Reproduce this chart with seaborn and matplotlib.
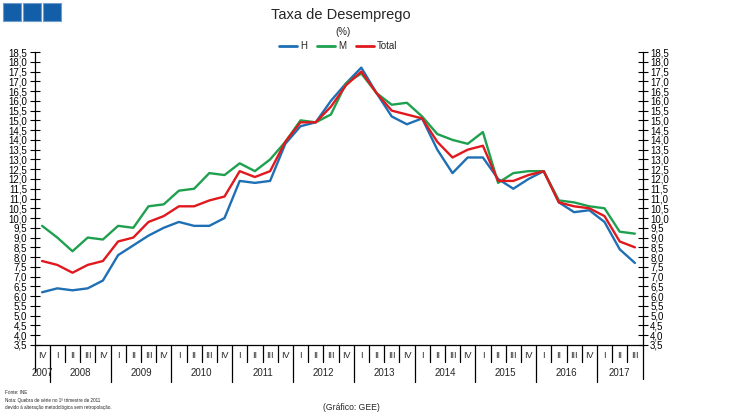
import numpy as np
import pandas as pd
import matplotlib
matplotlib.use("Agg")
import matplotlib.pyplot as plt
import matplotlib.transforms as mtransforms
from matplotlib.patches import Rectangle
import seaborn as sns

# ---- data ----
quarters = ["IV"] + ["I", "II", "III", "IV"] * 9 + ["I", "II", "III"]
years = ["2007", "2008", "2009", "2010", "2011", "2012", "2013", "2014", "2015", "2016", "2017"]
year_counts = [1, 4, 4, 4, 4, 4, 4, 4, 4, 4, 3]

homens = [6.2, 6.4, 6.3, 6.4, 6.8, 8.1, 8.6, 9.1, 9.5, 9.8, 9.6, 9.6, 10.0, 11.9, 11.8, 11.9,
          13.8, 14.7, 14.9, 16.0, 16.9, 17.7, 16.4, 15.2, 14.8, 15.1, 13.5, 12.3, 13.1, 13.1,
          12.0, 11.5, 12.0, 12.4, 10.8, 10.3, 10.4, 9.8, 8.4, 7.7]
mulheres = [9.6, 9.0, 8.3, 9.0, 8.9, 9.6, 9.5, 10.6, 10.7, 11.4, 11.5, 12.3, 12.2, 12.8, 12.4, 13.0,
            13.9, 15.0, 14.9, 15.3, 16.9, 17.4, 16.4, 15.8, 15.9, 15.2, 14.3, 14.0, 13.8, 14.4,
            11.8, 12.3, 12.4, 12.4, 10.9, 10.8, 10.6, 10.5, 9.3, 9.2]
total = [7.8, 7.6, 7.2, 7.6, 7.8, 8.8, 9.0, 9.8, 10.1, 10.6, 10.6, 10.9, 11.1, 12.4, 12.1, 12.4,
         13.9, 14.9, 14.9, 15.7, 16.8, 17.5, 16.4, 15.5, 15.3, 15.1, 13.9, 13.1, 13.5, 13.7,
         11.9, 11.9, 12.2, 12.4, 10.8, 10.6, 10.5, 10.1, 8.8, 8.5]
series_names = ["H", "M", "Total"]
colors = ["#1F6FB4", "#1FA04E", "#E0191E"]

n = len(quarters)
idx = np.arange(n)
df = pd.concat([
    pd.DataFrame({"pos": idx, "valor": vals, "serie": name})
    for name, vals in zip(series_names, [homens, mulheres, total])
], ignore_index=True)

# ---- figure ----
sns.set_style("white")
plt.rcParams["font.family"] = ["Liberation Sans", "DejaVu Sans"]
fig = plt.figure(figsize=(7.5, 4.18), dpi=100)
ax = fig.add_axes([34.5 / 750, 1 - 345 / 418, 608 / 750, 293 / 418])

sns.lineplot(data=df, x="pos", y="valor", hue="serie", hue_order=series_names,
             palette=colors, linewidth=1.7, ax=ax, legend=True)

ax.set_xlim(-0.5, n - 0.5)
ax.set_ylim(3.5, 18.5)
ax.set_xlabel("")
ax.set_ylabel("")
yt = np.arange(3.5, 18.51, 0.5)
ax.set_yticks(yt)
ax.set_yticklabels([f"{v:.1f}".replace(".", ",") for v in yt])
ax.set_xticks([])
ax.tick_params(axis="y", direction="inout", length=7, width=0.8, colors="black",
               left=True, right=True, labelleft=True, labelright=True, labelsize=7, pad=2)
for s in ["left", "right", "bottom"]:
    ax.spines[s].set_color("black")
    ax.spines[s].set_linewidth(0.9)
ax.spines["top"].set_visible(False)

# ---- category axis ----
trans = mtransforms.blended_transform_factory(ax.transData, ax.transAxes)
px = 1 / 293.0
for i, q in enumerate(quarters):
    ax.text(i, -10 * px, q, transform=trans, ha="center", va="center", fontsize=6.5)
b = 0
bounds = [0]
for c in year_counts:
    b += c
    bounds.append(b)
for k in range(1, n):
    pos = k - 0.5
    if k in bounds:
        ax.plot([pos, pos], [0, -37 * px], transform=trans, color="black", lw=0.9, clip_on=False)
    else:
        ax.plot([pos, pos], [0, -17 * px], transform=trans, color="black", lw=0.9, clip_on=False)
ax.plot([-0.5, -0.5], [0, -27 * px], transform=trans, color="black", lw=0.9, clip_on=False)
ax.plot([n - 0.5, n - 0.5], [0, -34 * px], transform=trans, color="black", lw=0.9, clip_on=False)
for yr, s0, s1 in zip(years, bounds[:-1], bounds[1:]):
    ax.text((s0 + s1 - 1) / 2, -28 * px, yr, transform=trans, ha="center", va="center", fontsize=7)

# ---- legend ----
h, l = ax.get_legend_handles_labels()
for hh in h:
    hh.set_linewidth(2)
ax.legend(h, l, loc="center", bbox_to_anchor=(338 / 750, 1 - 46 / 418),
          bbox_transform=fig.transFigure, ncol=3, frameon=False, fontsize=7,
          handlelength=1.9, handletextpad=0.3, columnspacing=1.0, borderpad=0)

# ---- titles and notes ----
fig.text(341 / 750, 1 - 15 / 418, "Taxa de Desemprego", ha="center", va="center", fontsize=10.5)
fig.text(343 / 750, 1 - 32 / 418, "(%)", ha="center", va="center", fontsize=7)
fig.text(5 / 750, 1 - 393 / 418, "Fonte: INE", ha="left", va="center", fontsize=3.3)
fig.text(5 / 750, 1 - 400.5 / 418, "Nota: Quebra de série no 1º trimestre de 2011",
         ha="left", va="center", fontsize=3.3)
fig.text(5 / 750, 1 - 408 / 418, "devido à alteração metodológica sem retropolação.",
         ha="left", va="center", fontsize=3.3)
fig.text(351 / 750, 1 - 408 / 418, "(Gráfico: GEE)", ha="center", va="center", fontsize=6.2)

# ---- top-left decoration squares ----
for x0 in [3, 23, 43]:
    fig.patches.append(Rectangle((x0 / 750, 1 - 21 / 418), 18 / 750, 18 / 418,
                                 transform=fig.transFigure, facecolor="#135EA8",
                                 edgecolor="#6F9CCB", linewidth=0.8))

fig.savefig("out.png", dpi=100)
